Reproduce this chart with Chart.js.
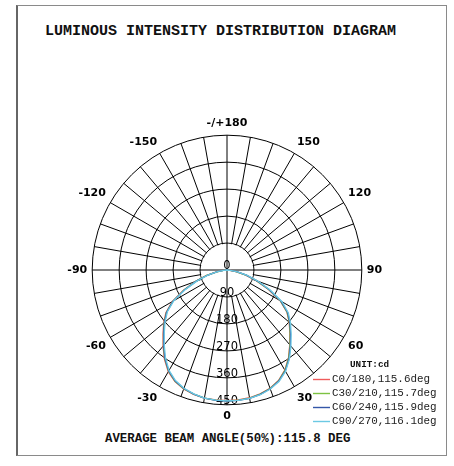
<!DOCTYPE html>
<html>
<head>
<meta charset="utf-8">
<script src="https://cdn.jsdelivr.net/npm/chart.js@4.4.1/dist/chart.umd.min.js"></script>
<style>
  body { margin: 0; background: #fff; width: 454px; height: 466px; position: relative; overflow: hidden; }
  .frame { position: absolute; left: 16px; top: 5px; width: 428px; height: 449px;
           border: 1px solid #8a8a8a; border-left: 2px solid #666; }
  .mono { position: absolute; white-space: nowrap; font-family: 'Liberation Mono', monospace; color: #111; }
  #title { left: 45px; top: 22px; font-size: 15px; font-weight: bold; line-height: 19px; }
  #beam { left: 105px; top: 431px; font-size: 12.4px; font-weight: bold; line-height: 16px; }
  #unit { left: 350px; top: 359px; font-size: 9.3px; font-weight: bold; line-height: 12px; }
  #wrap { position: absolute; left: 20px; top: 117px; width: 414px; height: 306px; }
  #legendCanvas { position: absolute; left: 310px; top: 370px; }
</style>
</head>
<body>
<div class="frame"></div>
<div id="title" class="mono">LUMINOUS INTENSITY DISTRIBUTION DIAGRAM</div>
<div id="wrap"><canvas id="polar"></canvas></div>
<div id="unit" class="mono">UNIT:cd</div>
<canvas id="legendCanvas" width="136" height="58"></canvas>
<div id="beam" class="mono">AVERAGE BEAM ANGLE(50%):115.8 DEG</div>
<script>
// angle categories, clockwise from the top of the diagram (5 deg steps)
const angles = [180, 175, 170, 165, 160, 155, 150, 145, 140, 135, 130, 125, 120, 115, 110, 105, 100, 95,
  90, 85, 80, 75, 70, 65, 60, 55, 50, 45, 40, 35, 30, 25, 20, 15, 10, 5,
  0, -5, -10, -15, -20, -25, -30, -35, -40, -45, -50, -55, -60, -65, -70, -75, -80, -85,
  -90, -95, -100, -105, -110, -115, -120, -125, -130, -135, -140, -145, -150, -155, -160, -165, -170, -175];

const angleTickLabels = ['-/+180', '150', '120', '90', '60', '30', '0', '-30', '-60', '-90', '-120', '-150'];
const ringValues = [0, 90, 180, 270, 360, 450];
const ringLabels = ['0', '90', '180', '270', '360', '450'];

const seriesNames = ['C0/180,115.6deg', 'C30/210,115.7deg', 'C60/240,115.9deg', 'C90/270,116.1deg'];
const seriesColors = ['#ef5b5b', '#7dc242', '#3457a8', '#6cc9e3'];

// intensity (cd) per angle category
const c0_180 = [0, 0, 0, 0, 0, 0, 0, 0, 0, 0, 0, 0, 0, 0, 0, 0, 0, 0,
  0, 10, 30, 63, 104, 152, 205, 244, 271, 297, 326, 358, 386, 407, 420, 428, 433, 435,
  436, 435, 434, 430, 423, 411, 392, 364, 332, 302, 276, 249, 211, 160, 114, 72, 36, 13,
  0, 0, 0, 0, 0, 0, 0, 0, 0, 0, 0, 0, 0, 0, 0, 0, 0, 0];
const c30_210 = [0, 0, 0, 0, 0, 0, 0, 0, 0, 0, 0, 0, 0, 0, 0, 0, 0, 0,
  0, 11, 31, 65, 106, 154, 206, 245, 272, 298, 327, 359, 387, 408, 421, 429, 434, 436,
  437, 436, 434, 429, 422, 410, 390, 362, 330, 300, 274, 247, 209, 158, 111, 70, 34, 12,
  0, 0, 0, 0, 0, 0, 0, 0, 0, 0, 0, 0, 0, 0, 0, 0, 0, 0];
const c60_240 = [0, 0, 0, 0, 0, 0, 0, 0, 0, 0, 0, 0, 0, 0, 0, 0, 0, 0,
  0, 11, 33, 67, 108, 156, 208, 247, 274, 300, 329, 361, 389, 409, 422, 430, 435, 437,
  438, 437, 434, 429, 421, 409, 389, 361, 329, 299, 273, 246, 208, 156, 109, 68, 33, 12,
  0, 0, 0, 0, 0, 0, 0, 0, 0, 0, 0, 0, 0, 0, 0, 0, 0, 0];
const c90_270 = [0, 0, 0, 0, 0, 0, 0, 0, 0, 0, 0, 0, 0, 0, 0, 0, 0, 0,
  0, 12, 35, 70, 112, 160, 212, 250, 277, 303, 332, 363, 391, 411, 423, 431, 435, 437,
  437, 436, 434, 428, 420, 407, 387, 358, 326, 296, 270, 243, 205, 153, 106, 66, 32, 11,
  0, 0, 0, 0, 0, 0, 0, 0, 0, 0, 0, 0, 0, 0, 0, 0, 0, 0];

const seriesData = [c0_180, c30_210, c60_240, c90_270];

// legend: short coloured strokes and plane names
const lctx = document.getElementById('legendCanvas').getContext('2d');
const legendRows = [9.5, 23.5, 37.5, 51.5];
lctx.font = '10.9px "Liberation Mono"';
lctx.textBaseline = 'middle';
seriesNames.forEach((name, i) => {
  lctx.strokeStyle = seriesColors[i];
  lctx.lineWidth = 1.4;
  lctx.beginPath();
  lctx.moveTo(3, legendRows[i]);
  lctx.lineTo(20, legendRows[i]);
  lctx.stroke();
  lctx.fillStyle = '#222';
  lctx.fillText(name, 22, legendRows[i]);
});

// blank out the spokes inside the first ring, keep the cross, write ring values
const hubPlugin = {
  id: 'hub',
  beforeDatasetsDraw(chart) {
    const r = chart.scales.r;
    const ctx = chart.ctx;
    const cx = r.xCenter;
    const cy = r.yCenter;
    const rin = r.getDistanceFromCenterForValue(ringValues[1]);
    ctx.save();
    ctx.fillStyle = '#fff';
    ctx.beginPath();
    ctx.arc(cx, cy, rin - 0.7, 0, Math.PI * 2);
    ctx.fill();
    ctx.strokeStyle = '#000';
    ctx.lineWidth = 1;
    ctx.beginPath();
    ctx.moveTo(cx - rin, cy);
    ctx.lineTo(cx + rin, cy);
    ctx.moveTo(cx, cy - rin);
    ctx.lineTo(cx, cy + rin);
    ctx.stroke();

    ctx.fillStyle = '#000';
    ctx.font = '11.5px "DejaVu Sans"';
    ctx.textAlign = 'center';
    ctx.textBaseline = 'middle';
    ringValues.forEach((v, i) => {
      ctx.fillText(ringLabels[i], cx, cy + r.getDistanceFromCenterForValue(v) - 4);
    });
    ctx.restore();
  }
};

new Chart(document.getElementById('polar'), {
  type: 'radar',
  data: {
    labels: angles,
    datasets: seriesNames.map((name, i) => ({
      label: name,
      data: seriesData[i],
      borderColor: seriesColors[i],
      borderWidth: 1.3,
      fill: false,
      pointRadius: 0,
      tension: 0,
      order: seriesNames.length - i, // later C-planes on top
    })),
  },
  options: {
    responsive: true,
    maintainAspectRatio: false,
    animation: false,
    devicePixelRatio: 1,
    layout: { padding: 0 },
    plugins: {
      legend: { display: false },
      tooltip: { enabled: false },
    },
    scales: {
      r: {
        min: 0,
        max: 450,
        ticks: { stepSize: 90, display: false },
        grid: { circular: true, color: '#000', lineWidth: 1 },
        angleLines: {
          color: '#000',
          lineWidth: (ctx) => (ctx.index % 2 === 0 ? 1 : 0),
        },
        pointLabels: {
          padding: 5,
          color: '#000',
          font: { family: 'DejaVu Sans', size: 11, weight: 'bold', lineHeight: 1.2 },
          callback: (label, index) => (index % 6 === 0 ? angleTickLabels[index / 6] : ''),
        },
      },
    },
  },
  plugins: [hubPlugin],
});
</script>
</body>
</html>
